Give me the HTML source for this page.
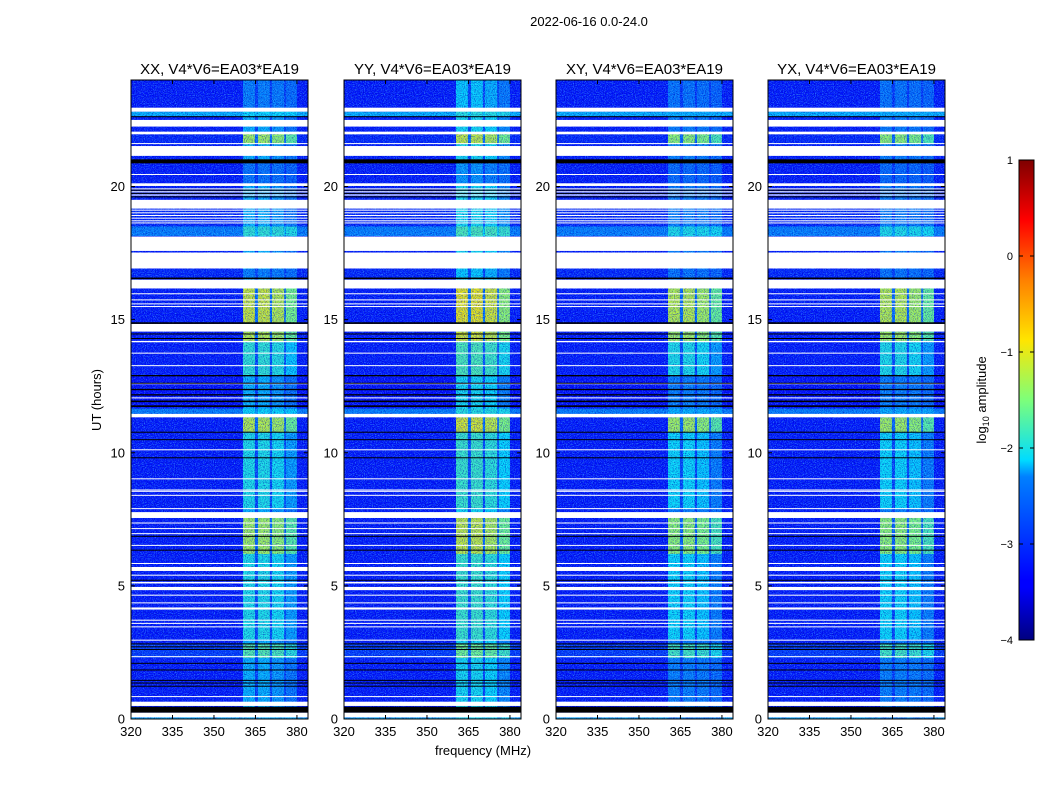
<!DOCTYPE html>
<html><head><meta charset="utf-8"><style>
body{margin:0;background:#fff;}
svg text{font-family:"Liberation Sans",sans-serif;}
</style></head><body>
<svg id="fig" width="1050" height="800" xmlns="http://www.w3.org/2000/svg">
<defs>
<filter id="grain" x="0" y="0" width="100%" height="100%">
<feTurbulence type="fractalNoise" baseFrequency="0.9" numOctaves="2" seed="3"/>
<feColorMatrix type="matrix" values="0 0 0 0 0  0 0 0 0 0  0 0 0 0 0.45  3 0 0 0 -1.3"/>
</filter>
<filter id="grain2" x="0" y="0" width="100%" height="100%">
<feTurbulence type="fractalNoise" baseFrequency="0.9" numOctaves="2" seed="11"/>
<feColorMatrix type="matrix" values="0 0 0 0 0.1  0 0 0 0 0.75  0 0 0 0 1  3 0 0 0 -1.4"/>
</filter>
<linearGradient id="jet" x1="0" y1="1" x2="0" y2="0">
<stop offset="0" stop-color="#00007f"/><stop offset="0.11" stop-color="#0000ff"/><stop offset="0.125" stop-color="#0000ff"/>
<stop offset="0.34" stop-color="#0080ff"/><stop offset="0.375" stop-color="#00dcff"/><stop offset="0.5" stop-color="#7dff7a"/>
<stop offset="0.625" stop-color="#ffe500"/><stop offset="0.75" stop-color="#ff8000"/><stop offset="0.875" stop-color="#ff0000"/><stop offset="1" stop-color="#7f0000"/>
</linearGradient>
</defs>
<text x="589" y="26" font-size="13" text-anchor="middle">2022-06-16 0.0-24.0</text>
<text x="483" y="755" font-size="13" text-anchor="middle">frequency (MHz)</text>
<text transform="translate(101,400) rotate(-90)" font-size="13" text-anchor="middle">UT (hours)</text>
<g id="panels"></g>
<g id="cbar"></g>
</svg>
<script>
const panelTitles = ["XX, V4*V6=EA03*EA19","YY, V4*V6=EA03*EA19","XY, V4*V6=EA03*EA19","YX, V4*V6=EA03*EA19"];
const panelLeft = [131,344,556,768];
const panelRfiShift = [0, 0.15, -0.1, -0.1];
const panelBaseShift = [0, 0, 0.0, 0.0];
// frequency channel groups: [f0,f1,rfiWeight]
const freqGroups = [[320,360.5,0],[360.5,364.8,1],[364.8,365.9,0.35],[365.9,370.2,1],[370.2,371,0.35],[371,375.4,0.95],[375.4,376,0.3],[376,380,0.8],[380,384,0]];
// time segments: [h0,h1,baseLog,rfiLog]
const segments = [
[0,24,-3.2,-2.2],[22.96,24,-3.2,-2.3],[22.65,22.81,-2.2,-2.1],[21.6,22.0,-3.1,-1.3],
[20.1,21.0,-3.2,-2.4],[18.5,19.5,-3.1,-2.2],[18.15,18.5,-2.3,-1.9],[16.6,16.9,-3.1,-2.3],
[14.9,16.17,-3.2,-1.1],[14.2,14.55,-3.2,-1.2],[12.9,14.2,-3.2,-1.9],[11.7,12.9,-3.3,-2.2],
[11.47,11.66,-2.3,-2.1],[10.77,11.33,-3.2,-1.2],[7.9,10.77,-3.2,-2.0],[7.55,7.77,-2.4,-2.0],
[6.2,7.55,-3.2,-1.3],[3.0,6.2,-3.2,-2.0],[2.3,2.84,-2.9,-1.7],[0,0.06,-2.2,-2.2]
];
// white (no data) intervals in hours
const gaps = [[22.81,22.96],[22.25,22.5],[21.96,22.06],[21.61,21.63],[21.15,21.52],[20.45,20.47],[20.02,20.12],
[19.9,19.93],[19.78,19.82],[19.66,19.7],[19.17,19.5],[19.1,19.13],[19.0,19.03],[18.9,18.93],[18.8,18.83],[18.7,18.73],[18.62,18.65],
[17.58,18.12],[16.92,17.52],[16.17,16.5],[15.96,15.99],[15.73,15.76],[15.58,15.61],[15.48,15.51],[14.55,14.84],
[14.15,14.2],[13.73,13.76],[13.26,13.29],[12.58,12.61],[12.05,12.08],[11.33,11.46],[10.1,10.13],[9.01,9.04],
[8.59,8.62],[8.55,8.57],[8.39,8.42],[7.89,7.92],[7.55,7.77],[7.35,7.38],[7.14,7.17],[6.95,6.98],[6.51,6.54],[5.83,5.86],
[5.56,5.71],[5.39,5.42],[5.09,5.15],[4.84,4.96],[4.64,4.67],[4.35,4.38],[4.11,4.19],[3.7,3.73],[3.58,3.61],[3.45,3.48],
[2.95,2.98],[2.33,2.36],[0.83,0.86],[0.49,0.65],[0.06,0.24]];
// black (flagged) intervals in hours
const blacks = [[22.61,22.64],[20.87,21.02],[19.86,19.88],[19.74,19.76],[19.6,19.63],[16.52,16.58],[14.84,14.9],[14.45,14.48],[14.28,14.31],
[12.87,12.92],[12.6,12.63],[12.35,12.4],[12.15,12.2],[11.9,11.96],[11.72,11.78],[10.76,10.79],[10.48,10.51],[9.8,9.83],
[6.85,6.88],[6.33,6.36],[5.2,5.23],[2.8,2.84],[2.7,2.73],[2.6,2.63],[2.08,2.11],[1.83,1.86],[1.44,1.47],[1.34,1.37],[1.22,1.25],[0.24,0.46]];
const yTicks=[0,5,10,15,20], xTicks=[320,335,350,365,380];
const cbTicks=[1,0,-1,-2,-3,-4];

const NS="http://www.w3.org/2000/svg";
const T=80, B=719, W=177, F0=320, F1=384, H0=0, H1=24;
const yS=h=>B-(h-H0)/(H1-H0)*(B-T);
const jetStops=[[0,0,0,127],[0.11,0,0,255],[0.125,0,0,255],[0.34,0,128,255],[0.375,0,220,255],[0.5,125,255,122],[0.625,255,229,0],[0.75,255,128,0],[0.875,255,0,0],[1,127,0,0]];
function jet(v){let t=Math.max(0,Math.min(1,(v+4)/5));for(let i=1;i<jetStops.length;i++){const a=jetStops[i-1],b=jetStops[i];if(t<=b[0]){const u=(t-a[0])/(b[0]-a[0]);return `rgb(${Math.round(a[1]+u*(b[1]-a[1]))},${Math.round(a[2]+u*(b[2]-a[2]))},${Math.round(a[3]+u*(b[3]-a[3]))})`;}}return "rgb(127,0,0)";}
function el(tag,attrs,parent){const e=document.createElementNS(NS,tag);for(const k in attrs)e.setAttribute(k,attrs[k]);parent.appendChild(e);return e;}
const root=document.getElementById('panels');
panelTitles.forEach((title,p)=>{
  const L=panelLeft[p], xS=f=>L+(f-F0)/(F1-F0)*W;
  const g=el('g',{},root);
  
  
  segments.forEach(s=>{
    freqGroups.forEach(fg=>{
      const base=s[2]+panelBaseShift[p], rfi=s[3]+panelRfiShift[p];
      const v=base+(rfi-base)*fg[2];
      const r=el('rect',{x:xS(fg[0]),y:yS(s[1]),width:xS(fg[1])-xS(fg[0])+0.3,height:yS(s[0])-yS(s[1])+0.3,fill:jet(v)},g);
      
      
    });
  });
  el('rect',{x:L,y:T,width:W,height:B-T,filter:'url(#grain)',opacity:0.6},g);
  el('rect',{x:L,y:T,width:W,height:B-T,filter:'url(#grain2)',opacity:0.5},g);
  gaps.forEach(q=>{const r=el('rect',{x:L,y:yS(q[1]),width:W,height:Math.max(1,yS(q[0])-yS(q[1])),fill:'#fff'},g);
    });
  blacks.forEach(q=>{const r=el('rect',{x:L,y:yS(q[1]),width:W,height:Math.max(1,yS(q[0])-yS(q[1])),fill:'#000'},g);
    });
  const fr=el('rect',{x:L,y:T,width:W,height:B-T,fill:'none',stroke:'#000','stroke-width':1},g);
  
  const tt=el('text',{x:L+W/2,y:74,'font-size':15,'text-anchor':'middle'},g);tt.textContent=title;
  
  yTicks.forEach(h=>{const y=yS(h);el('line',{x1:L,x2:L+4,y1:y,y2:y,stroke:'#000'},g);el('line',{x1:L+W-4,x2:L+W,y1:y,y2:y,stroke:'#000'},g);
    const t=el('text',{x:L-6,y:y+4.5,'font-size':13,'text-anchor':'end'},g);t.textContent=h;
    });
  xTicks.forEach(f=>{const x=xS(f);el('line',{x1:x,x2:x,y1:B,y2:B-4,stroke:'#000'},g);el('line',{x1:x,x2:x,y1:T,y2:T+4,stroke:'#000'},g);
    const t=el('text',{x:x,y:736,'font-size':13,'text-anchor':'middle'},g);t.textContent=f;
    });
});
const cb=document.getElementById('cbar');
const cT=160,cB=640,cL=1019,cW=15,cy=v=>cB-(v+4)/5*(cB-cT);
el('rect',{x:cL,y:cT,width:cW,height:cB-cT,fill:'url(#jet)',stroke:'#000'},cb);
cbTicks.forEach(v=>{const y=cy(v);el('line',{x1:cL,x2:cL+4,y1:y,y2:y,stroke:'#000'},cb);el('line',{x1:cL+cW-4,x2:cL+cW,y1:y,y2:y,stroke:'#000'},cb);
  const t=el('text',{x:1013,y:y+4,'font-size':11,'text-anchor':'end'},cb);t.textContent=v<0?'\u2212'+(-v):v;
  });
const lab=el('text',{transform:'translate(986,400) rotate(-90)','font-size':13,'text-anchor':'middle'},cb);
lab.innerHTML='log<tspan font-size="9" dy="3">10</tspan><tspan dy="-3"> amplitude</tspan>';

</script>
</body></html>
